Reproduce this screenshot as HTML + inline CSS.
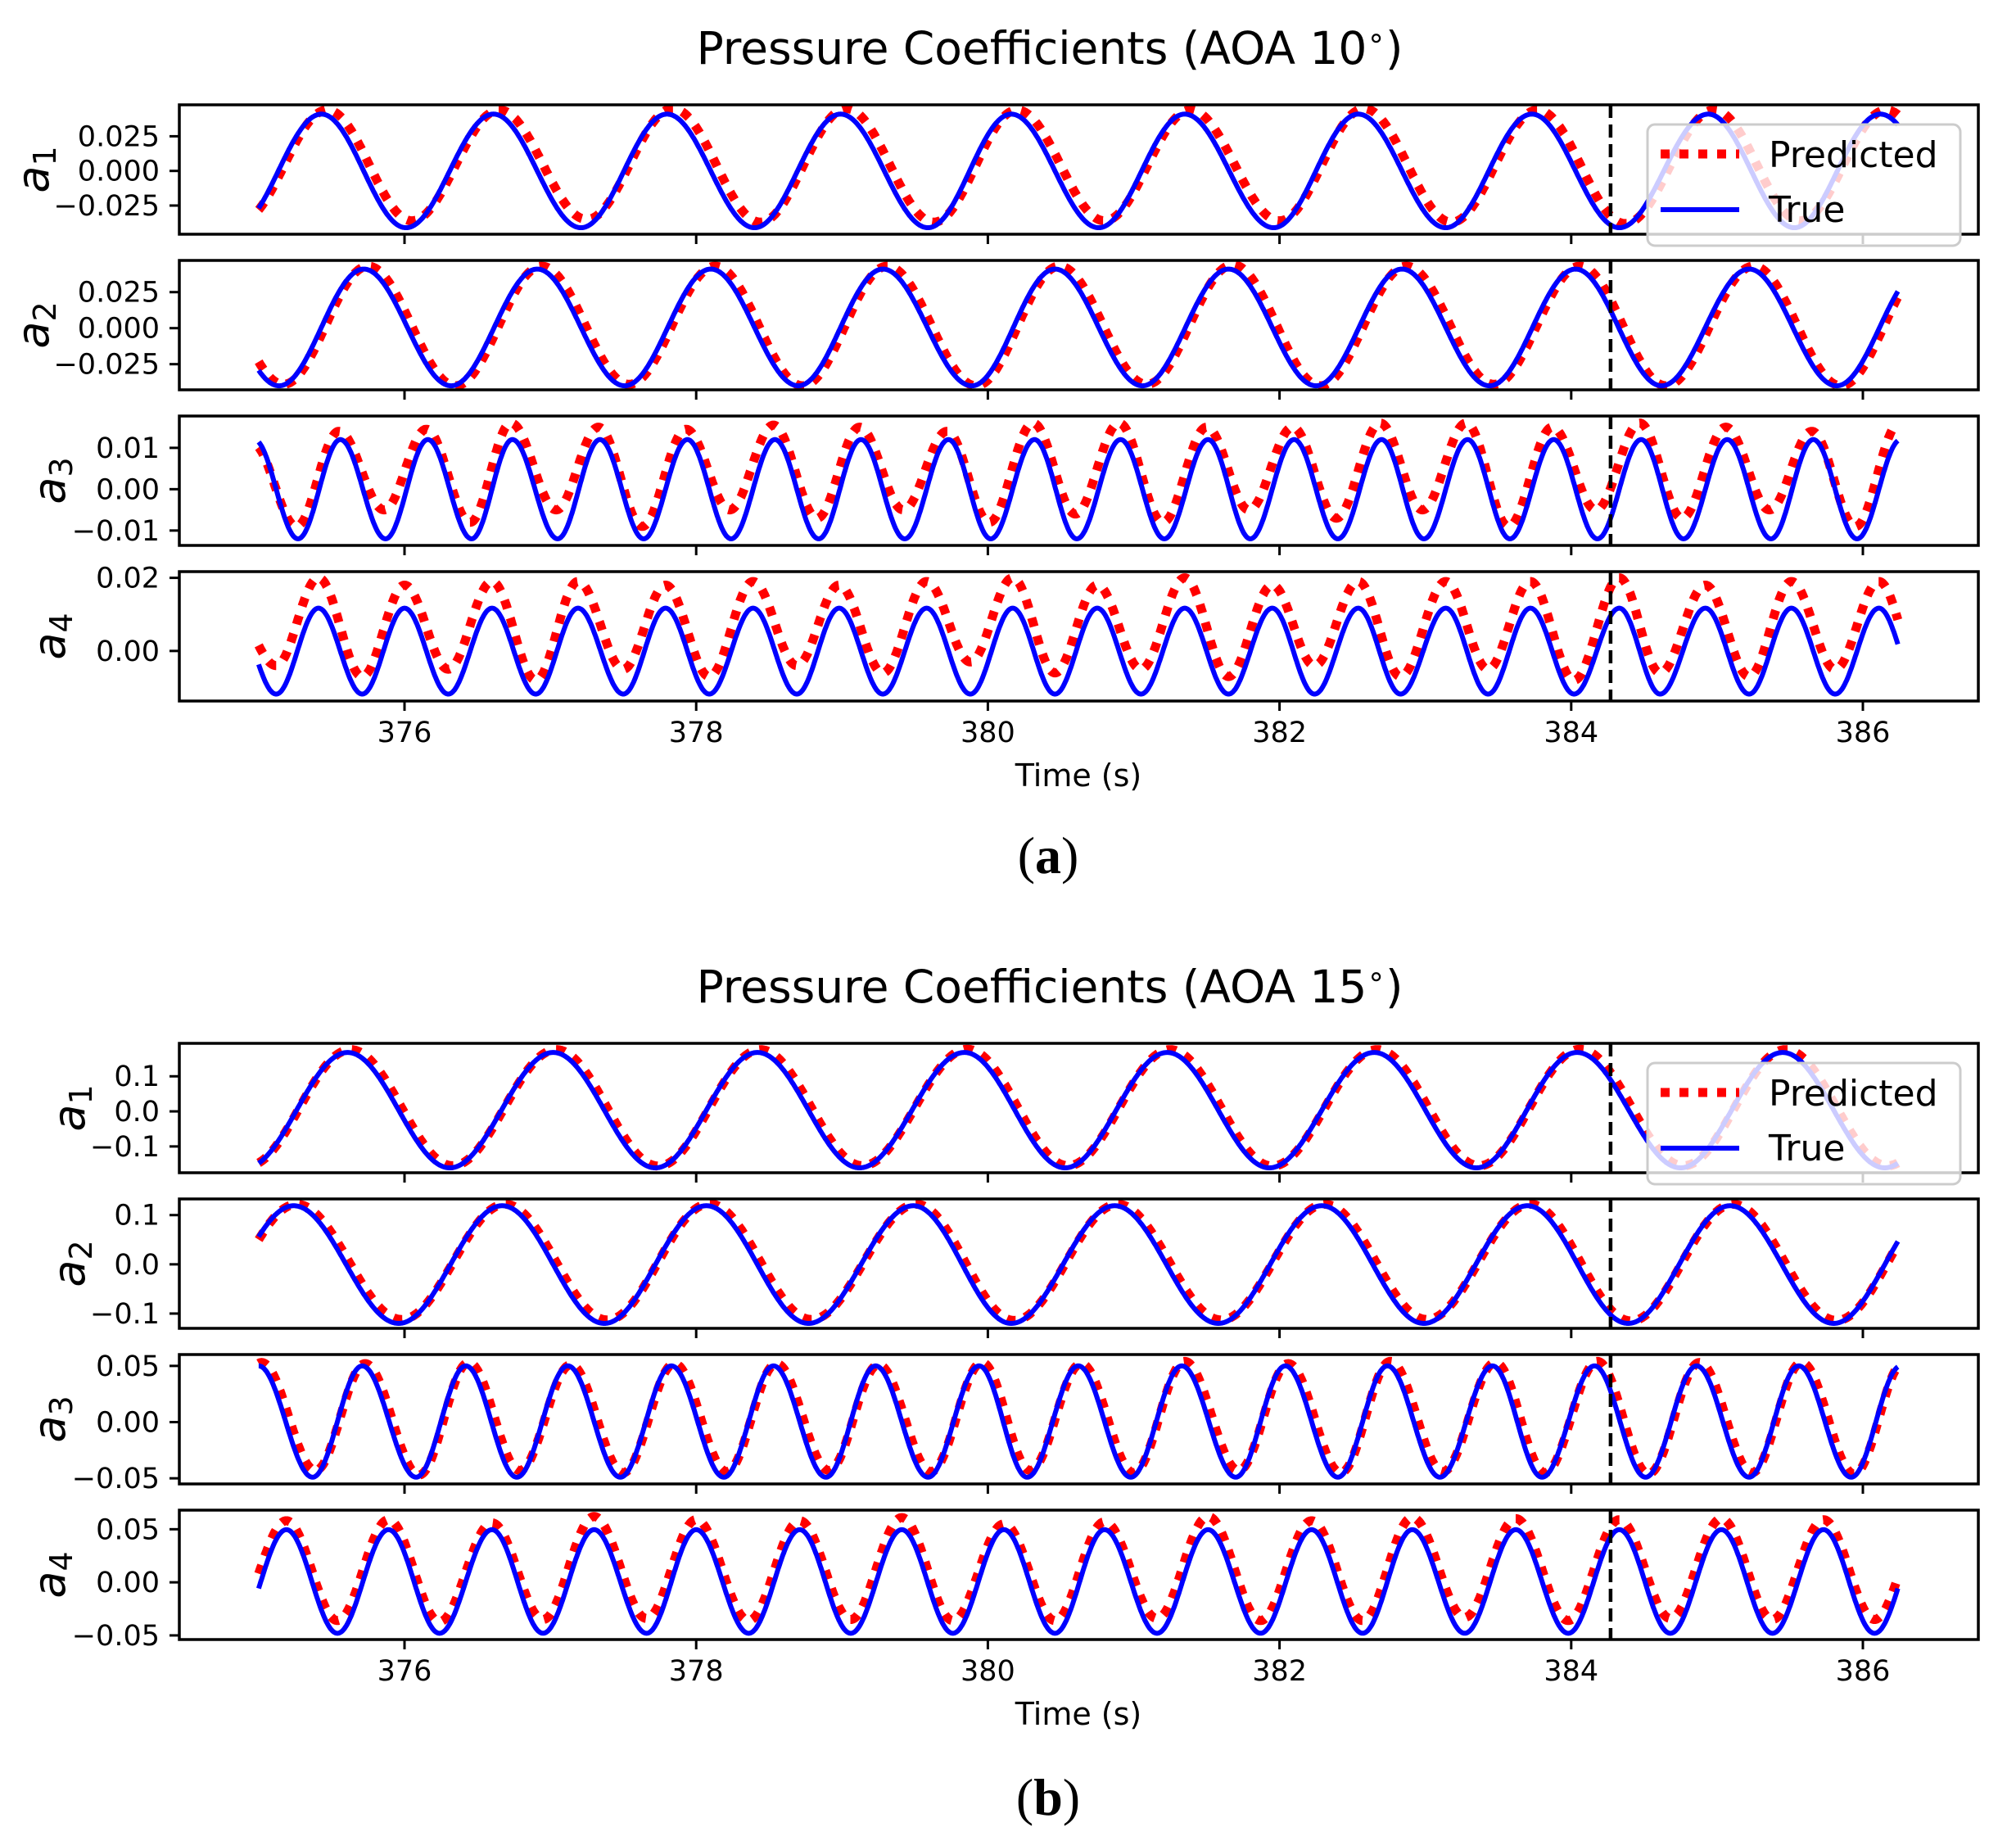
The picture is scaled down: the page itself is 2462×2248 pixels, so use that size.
<!DOCTYPE html>
<html><head><meta charset="utf-8"><style>
html,body{margin:0;padding:0;background:#fff}
svg{display:block}
text{font-family:"DejaVu Sans","Liberation Sans",sans-serif}
</style></head><body>
<svg id="fig" xmlns="http://www.w3.org/2000/svg" width="2462" height="2248" viewBox="0 0 2462 2248">
<rect width="2462" height="2248" fill="#fff"/>
<text x="1282" y="78" font-size="55" text-anchor="middle">Pressure Coefficients (AOA 10<tspan font-size="36" dy="-20">∘</tspan><tspan dy="20">)</tspan></text>
<text x="1282" y="1224" font-size="55" text-anchor="middle">Pressure Coefficients (AOA 15<tspan font-size="36" dy="-20">∘</tspan><tspan dy="20">)</tspan></text>
<text x="1317" y="960" font-size="38" text-anchor="middle">Time (s)</text>
<text x="1317" y="2106" font-size="38" text-anchor="middle">Time (s)</text>
<text x="1280" y="1066" font-size="64" text-anchor="middle" style="font-family:'Liberation Serif',serif">(<tspan font-weight="bold">a</tspan>)</text>
<text x="1280" y="2216" font-size="64" text-anchor="middle" style="font-family:'Liberation Serif',serif">(<tspan font-weight="bold">b</tspan>)</text>
<g id="plots"></g>
</svg>
<script>
// ---- data ----
const xTicks = [376, 378, 380, 382, 384, 386];
const splitTime = 384.27;
const tStart = 375.0;
const tEnd = 386.24;

// Figure (a) AOA 10
const aA1Peaks = [375.43,376.61,377.80,378.99,380.16,381.35,382.54,383.73,384.94,386.12];
const aA1Troughs = [374.84,376.01,377.21,378.40,379.59,380.76,381.96,383.14,384.33,385.53,386.72];
const aA1TruePk = [0.041,0.041,0.041,0.041,0.041,0.041,0.041,0.041,0.041,0.041];
const aA1TrueTr = [-0.041,-0.041,-0.041,-0.041,-0.041,-0.041,-0.041,-0.041,-0.041,-0.041,-0.041];
const aA1PredPk = [0.044,0.044,0.045,0.045,0.044,0.044,0.045,0.044,0.044,0.044];
const aA1PredTr = [-0.036,-0.036,-0.035,-0.037,-0.037,-0.036,-0.036,-0.037,-0.038,-0.036,-0.036];

const aA2Peaks = [374.55,375.72,376.91,378.10,379.28,380.46,381.65,382.84,384.03,385.22,386.41];
const aA2Troughs = [375.14,376.32,377.51,378.70,379.89,381.06,382.25,383.44,384.62,385.82];
const aA2TruePk = [0.041,0.041,0.041,0.041,0.041,0.041,0.041,0.041,0.041,0.041,0.041];
const aA2TrueTr = [-0.040,-0.040,-0.040,-0.040,-0.040,-0.040,-0.040,-0.040,-0.040,-0.040];
const aA2PredPk = [0.043,0.043,0.043,0.043,0.043,0.043,0.044,0.043,0.043,0.043,0.043];
const aA2PredTr = [-0.039,-0.040,-0.039,-0.040,-0.040,-0.039,-0.040,-0.039,-0.040,-0.040];

const aA3Peaks = [374.97,375.56,376.16,376.74,377.34,377.94,378.54,379.13,379.73,380.32,380.91,381.51,382.10,382.70,383.29,383.88,384.48,385.07,385.66,386.26];
const aA3Troughs = [375.27,375.87,376.46,377.05,377.64,378.24,378.84,379.43,380.02,380.61,381.21,381.80,382.40,382.99,383.58,384.18,384.77,385.37,385.96];
const aA3TruePk = [0.012,0.012,0.012,0.012,0.012,0.012,0.012,0.012,0.012,0.012,0.012,0.012,0.012,0.012,0.012,0.012,0.012,0.012,0.012,0.012];
const aA3TrueTr = [-0.012,-0.012,-0.012,-0.012,-0.012,-0.012,-0.012,-0.012,-0.012,-0.012,-0.012,-0.012,-0.012,-0.012,-0.012,-0.012,-0.012,-0.012,-0.012];
const aA3PredPk = [0.011,0.014,0.0145,0.016,0.015,0.0145,0.0155,0.015,0.014,0.016,0.016,0.015,0.015,0.016,0.016,0.015,0.016,0.015,0.014,0.016];
const aA3PredTr = [-0.009,-0.005,-0.008,-0.005,-0.009,-0.005,-0.007,-0.005,-0.008,-0.006,-0.008,-0.005,-0.007,-0.005,-0.009,-0.005,-0.007,-0.005,-0.009];

const aA4Peaks = [374.82,375.41,376.00,376.60,377.19,377.79,378.39,378.98,379.58,380.17,380.75,381.35,381.95,382.54,383.14,383.72,384.33,384.92,385.51,386.11];
const aA4Troughs = [375.12,375.71,376.30,376.90,377.50,378.09,378.69,379.28,379.88,380.46,381.05,381.65,382.24,382.83,383.43,384.02,384.61,385.22,385.81,386.40];
const aA4TruePk = [0.0117,0.0117,0.0117,0.0117,0.0117,0.0117,0.0117,0.0117,0.0117,0.0117,0.0117,0.0117,0.0117,0.0117,0.0117,0.0117,0.0117,0.0117,0.0117,0.0117];
const aA4TrueTr = [-0.0118,-0.0118,-0.0118,-0.0118,-0.0118,-0.0118,-0.0118,-0.0118,-0.0118,-0.0118,-0.0118,-0.0118,-0.0118,-0.0118,-0.0118,-0.0118,-0.0118,-0.0118,-0.0118,-0.0118];
const aA4PredPk = [0.012,0.020,0.018,0.019,0.019,0.018,0.019,0.018,0.019,0.020,0.018,0.020,0.018,0.019,0.019,0.019,0.020,0.018,0.019,0.019];
const aA4PredTr = [-0.004,-0.007,-0.005,-0.008,-0.005,-0.007,-0.004,-0.006,-0.003,-0.006,-0.005,-0.007,-0.004,-0.007,-0.005,-0.008,-0.006,-0.007,-0.005,-0.006];

// Figure (b) AOA 15
const bA1Peaks = [375.61,377.02,378.42,379.84,381.23,382.65,384.04,385.45,386.85];
const bA1Troughs = [374.91,376.31,377.72,379.12,380.53,381.93,383.35,384.75,386.15];
const bA1TruePk = [0.168,0.168,0.168,0.168,0.168,0.168,0.168,0.168,0.168];
const bA1TrueTr = [-0.161,-0.161,-0.161,-0.161,-0.161,-0.161,-0.161,-0.161,-0.161];
const bA1PredPk = [0.176,0.176,0.176,0.177,0.176,0.176,0.177,0.176,0.176];
const bA1PredTr = [-0.155,-0.155,-0.156,-0.155,-0.155,-0.156,-0.155,-0.155,-0.155];

const bA2Peaks = [375.24,376.67,378.07,379.49,380.87,382.29,383.70,385.09,386.50];
const bA2Troughs = [374.54,375.96,377.37,378.77,380.16,381.58,382.99,384.39,385.80];
const bA2TruePk = [0.119,0.119,0.119,0.119,0.119,0.119,0.119,0.119,0.119];
const bA2TrueTr = [-0.120,-0.120,-0.120,-0.120,-0.120,-0.120,-0.120,-0.120,-0.120];
const bA2PredPk = [0.122,0.122,0.123,0.122,0.122,0.122,0.122,0.122,0.122];
const bA2PredTr = [-0.115,-0.112,-0.113,-0.112,-0.114,-0.113,-0.112,-0.115,-0.114];

const bA3Peaks = [375.00,375.71,376.42,377.12,377.83,378.53,379.23,379.94,380.62,381.33,382.04,382.74,383.46,384.16,384.86,385.56,386.26];
const bA3Troughs = [374.65,375.37,376.08,376.77,377.48,378.19,378.89,379.59,380.27,380.98,381.70,382.40,383.10,383.80,384.51,385.22,385.92];
const bA3TruePk = [0.050,0.050,0.050,0.050,0.050,0.050,0.050,0.050,0.050,0.050,0.050,0.050,0.050,0.050,0.050,0.050,0.050];
const bA3TrueTr = [-0.049,-0.049,-0.049,-0.049,-0.049,-0.049,-0.049,-0.049,-0.049,-0.049,-0.049,-0.049,-0.049,-0.049,-0.049,-0.049,-0.049];
const bA3PredPk = [0.053,0.052,0.053,0.051,0.052,0.052,0.051,0.053,0.052,0.054,0.052,0.054,0.053,0.054,0.053,0.053,0.053];
const bA3PredTr = [-0.044,-0.043,-0.047,-0.043,-0.045,-0.044,-0.043,-0.044,-0.043,-0.045,-0.043,-0.045,-0.044,-0.045,-0.046,-0.045,-0.046];

const bA4Peaks = [375.19,375.89,376.60,377.30,378.00,378.71,379.41,380.11,380.80,381.51,382.22,382.91,383.62,384.33,385.03,385.73,386.43];
const bA4Troughs = [374.84,375.54,376.24,376.95,377.66,378.36,379.06,379.76,380.46,381.16,381.87,382.57,383.27,383.98,384.68,385.38,386.08];
const bA4TruePk = [0.0496,0.0496,0.0496,0.0496,0.0496,0.0496,0.0496,0.0496,0.0496,0.0496,0.0496,0.0496,0.0496,0.0496,0.0496,0.0496,0.0496];
const bA4TrueTr = [-0.048,-0.048,-0.048,-0.048,-0.048,-0.048,-0.048,-0.048,-0.048,-0.048,-0.048,-0.048,-0.048,-0.048,-0.048,-0.048,-0.048];
const bA4PredPk = [0.058,0.059,0.056,0.062,0.059,0.058,0.061,0.055,0.057,0.062,0.058,0.061,0.060,0.059,0.060,0.059,0.057];
const bA4PredTr = [-0.030,-0.036,-0.037,-0.035,-0.034,-0.036,-0.035,-0.036,-0.036,-0.034,-0.036,-0.036,-0.033,-0.036,-0.034,-0.035,-0.035];

const yTicksA12 = [-0.025, 0, 0.025];
const yTickLabelsA12 = ["\u22120.025", "0.000", "0.025"];
const yTicksA3 = [-0.01, 0, 0.01];
const yTickLabelsA3 = ["\u22120.01", "0.00", "0.01"];
const yTicksA4 = [0, 0.02];
const yTickLabelsA4 = ["0.00", "0.02"];
const yTicksB12 = [-0.1, 0, 0.1];
const yTickLabelsB12 = ["\u22120.1", "0.0", "0.1"];
const yTicksB34 = [-0.05, 0, 0.05];
const yTickLabelsB34 = ["\u22120.05", "0.00", "0.05"];

// ---- layout ----
const NS = "http://www.w3.org/2000/svg";
const plots = document.getElementById("plots");
const axL = 219, axR = 2416, axH = 158;
function xs(t){ return 494 + (t - 376) * 178.1; }

const panels = [
 {id:"a-a1", top:128,  ymin:-0.0457, ymax:0.0477, ticks:yTicksA12, tl:yTickLabelsA12, lab:1, lx:59,  pk:aA1Peaks, tr:aA1Troughs, tp:aA1TruePk, tt:aA1TrueTr, pp:aA1PredPk, pt:aA1PredTr, sh:0.04, leg:true},
 {id:"a-a2", top:318,  ymin:-0.0428, ymax:0.0470, ticks:yTicksA12, tl:yTickLabelsA12, lab:2, lx:59,  pk:aA2Peaks, tr:aA2Troughs, tp:aA2TruePk, tt:aA2TrueTr, pp:aA2PredPk, pt:aA2PredTr, sh:0.03},
 {id:"a-a3", top:508,  ymin:-0.0136, ymax:0.0177, ticks:yTicksA3, tl:yTickLabelsA3, lab:3, lx:79,  pk:aA3Peaks, tr:aA3Troughs, tp:aA3TruePk, tt:aA3TrueTr, pp:aA3PredPk, pt:aA3PredTr, sh:-0.01},
 {id:"a-a4", top:698,  ymin:-0.0137, ymax:0.0217, ticks:yTicksA4, tl:yTickLabelsA4, lab:4, lx:79,  pk:aA4Peaks, tr:aA4Troughs, tp:aA4TruePk, tt:aA4TrueTr, pp:aA4PredPk, pt:aA4PredTr, sh:0.0, xl:true},
 {id:"b-a1", top:1274, ymin:-0.175, ymax:0.194, ticks:yTicksB12, tl:yTickLabelsB12, lab:1, lx:103, pk:bA1Peaks, tr:bA1Troughs, tp:bA1TruePk, tt:bA1TrueTr, pp:bA1PredPk, pt:bA1PredTr, sh:0.02, leg:true},
 {id:"b-a2", top:1464, ymin:-0.130, ymax:0.1328, ticks:yTicksB12, tl:yTickLabelsB12, lab:2, lx:103, pk:bA2Peaks, tr:bA2Troughs, tp:bA2TruePk, tt:bA2TrueTr, pp:bA2PredPk, pt:bA2PredTr, sh:0.02},
 {id:"b-a3", top:1654, ymin:-0.055, ymax:0.0601, ticks:yTicksB34, tl:yTickLabelsB34, lab:3, lx:79,  pk:bA3Peaks, tr:bA3Troughs, tp:bA3TruePk, tt:bA3TrueTr, pp:bA3PredPk, pt:bA3PredTr, sh:0.02},
 {id:"b-a4", top:1844, ymin:-0.0539, ymax:0.068, ticks:yTicksB34, tl:yTickLabelsB34, lab:4, lx:79,  pk:bA4Peaks, tr:bA4Troughs, tp:bA4TruePk, tt:bA4TrueTr, pp:bA4PredPk, pt:bA4PredTr, sh:0.0, xl:true}
];

function mk(tag, attrs, parent){
  const e = document.createElementNS(NS, tag);
  for (const k in attrs) e.setAttribute(k, attrs[k]);
  (parent || plots).appendChild(e);
  return e;
}
function extrema(times, vals, shift){
  const out = [];
  for (let i = 0; i < times.length; i++) out.push({t: times[i] + shift, v: vals[i]});
  return out;
}
function curve(list){
  list.sort((a,b)=>a.t-b.t);
  const pts = [];
  for (let t = tStart; t <= tEnd + 1e-9; t += 0.004) {
    let k = 0;
    while (k < list.length - 2 && list[k+1].t < t) k++;
    const a = list[k], b = list[k+1];
    let u = (t - a.t) / (b.t - a.t);
    u = Math.max(0, Math.min(1, u));
    pts.push([t, a.v + (b.v - a.v) * (1 - Math.cos(Math.PI * u)) / 2]);
  }
  return pts;
}

panels.forEach(p => {
  const g = mk("g", {});
  
  
  const ys = v => p.top + axH - (v - p.ymin) / (p.ymax - p.ymin) * axH;
  const clipId = "clip-" + p.id;
  const cp = mk("clipPath", {id: clipId}, g);
  mk("rect", {x: axL, y: p.top, width: axR - axL, height: axH}, cp);
  const data = mk("g", {"clip-path": "url(#" + clipId + ")"}, g);

  const trueList = extrema(p.pk, p.tp, 0).concat(extrema(p.tr, p.tt, 0));
  const predList = extrema(p.pk, p.pp, p.sh).concat(extrema(p.tr, p.pt, p.sh));
  const toD = pts => pts.map((q,i)=>(i?"L":"M")+xs(q[0]).toFixed(1)+","+ys(q[1]).toFixed(1)).join("");

  const pred = mk("path", {d: toD(curve(predList)), fill:"none", stroke:"#ff0000", "stroke-width":11, "stroke-dasharray":"11 12"}, data);
  
  
  const tru = mk("path", {d: toD(curve(trueList)), fill:"none", stroke:"#0000ff", "stroke-width":6, "stroke-linejoin":"round"}, data);
  
  

  const dash = mk("line", {x1: xs(splitTime), x2: xs(splitTime), y1: p.top, y2: p.top + axH, stroke:"#000", "stroke-width":4.5, "stroke-dasharray":"16 8"}, g);
  
  

  const frame = mk("rect", {x: axL, y: p.top, width: axR - axL, height: axH, fill:"none", stroke:"#000", "stroke-width":3.5}, g);
  
  

  p.ticks.forEach((v, i) => {
    const y = ys(v);
    mk("line", {x1: axL - 12, x2: axL, y1: y, y2: y, stroke:"#000", "stroke-width":3}, g);
    const tx = mk("text", {x: 195, y: y + 12, "font-size": 35, "text-anchor":"end"}, g);
    
    
    tx.textContent = p.tl[i];
  });
  xTicks.forEach(t => {
    const x = xs(t);
    mk("line", {x1: x, x2: x, y1: p.top + axH, y2: p.top + axH + 12, stroke:"#000", "stroke-width":3}, g);
    if (p.xl) {
      const tx = mk("text", {x: x, y: p.top + axH + 50, "font-size": 35, "text-anchor":"middle"}, g);
      
      
      tx.textContent = String(t);
    }
  });

  const cy = p.top + axH / 2;
  const yl = mk("text", {x: p.lx, y: cy, "font-size": 54, "font-style":"italic", "text-anchor":"middle", transform:"rotate(-90 " + p.lx + " " + cy + ")"}, g);
  
  
  yl.innerHTML = 'a<tspan font-style="normal" font-size="38" dy="9">' + p.lab + '</tspan>';

  if (p.leg) {
    const lg = mk("g", {}, g);
    
    
    const ly = p.top + 24;
    mk("rect", {x: 2012, y: ly, width: 382, height: 148, rx: 9, fill:"#fff", "fill-opacity":0.8, stroke:"#cccccc", "stroke-width":3}, lg);
    const e1 = mk("line", {x1: 2028, x2: 2124, y1: ly + 36, y2: ly + 36, stroke:"#ff0000", "stroke-width":11, "stroke-dasharray":"11 12"}, lg);
    
    
    const t1 = mk("text", {x: 2160, y: ly + 52, "font-size": 44}, lg);
    t1.textContent = "Predicted";
    const e2 = mk("line", {x1: 2028, x2: 2124, y1: ly + 104, y2: ly + 104, stroke:"#0000ff", "stroke-width":6}, lg);
    
    
    const t2 = mk("text", {x: 2160, y: ly + 119, "font-size": 44}, lg);
    t2.textContent = "True";
  }
});
</script>
</body></html>
